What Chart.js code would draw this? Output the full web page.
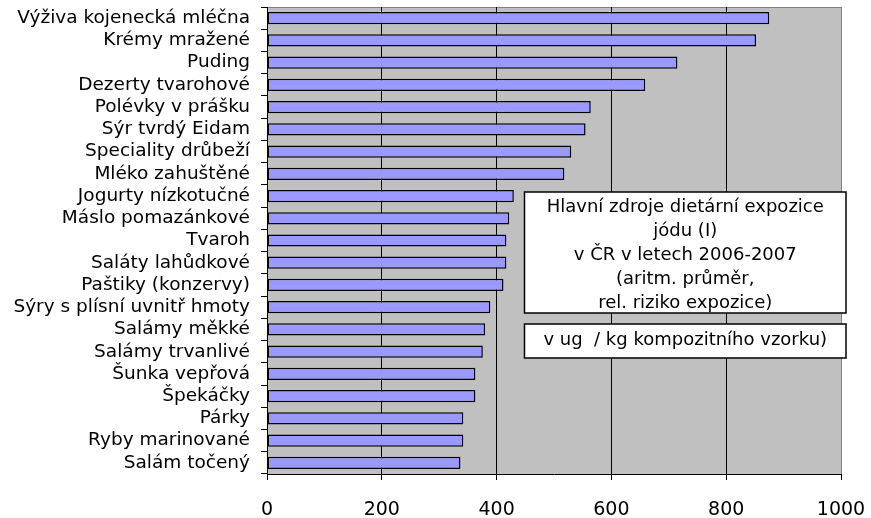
<!DOCTYPE html>
<html>
<head>
<meta charset="utf-8">
<script src="https://cdn.jsdelivr.net/npm/chart.js@4/dist/chart.umd.min.js"></script>
<style>
  html, body { margin: 0; padding: 0; background: #ffffff; }
  #wrap { width: 871px; height: 518px; }
</style>
</head>
<body>
<div id="wrap"><canvas id="c" width="871" height="518"></canvas></div>
<script>
// Food categories (top to bottom) and iodine content, µg / kg of composite sample
const categories = [
  'Výživa kojenecká mléčna',
  'Krémy mražené',
  'Puding',
  'Dezerty tvarohové',
  'Polévky v prášku',
  'Sýr tvrdý Eidam',
  'Speciality drůbeží',
  'Mléko zahuštěné',
  'Jogurty nízkotučné',
  'Máslo pomazánkové',
  'Tvaroh',
  'Saláty lahůdkové',
  'Paštiky (konzervy)',
  'Sýry s plísní uvnitř hmoty',
  'Salámy měkké',
  'Salámy trvanlivé',
  'Šunka vepřová',
  'Špekáčky',
  'Párky',
  'Ryby marinované',
  'Salám točený'
];
const iodineValues = [
  875, 852, 715, 659, 564, 555, 530, 518, 430, 422, 417,
  417, 412, 389, 380, 376, 363, 363, 342, 342, 337
];
const xTickValues = [0, 200, 400, 600, 800, 1000];

const titleLines = [
  'Hlavní zdroje dietární expozice',
  'jódu (I)',
  'v ČR v letech 2006-2007',
  '(aritm. průměr,',
  'rel. riziko expozice)'
];
const unitLine = 'v ug  / kg kompozitního vzorku)';

const FONT = 'DejaVu Sans';

// Grey plot background with a thin grey frame on top and right
const plotBackground = {
  id: 'plotBackground',
  beforeDraw(chart) {
    const { ctx, chartArea: a } = chart;
    ctx.save();
    ctx.fillStyle = '#C0C0C0';
    ctx.fillRect(a.left, a.top, a.right - a.left, a.bottom - a.top);
    ctx.strokeStyle = '#808080';
    ctx.lineWidth = 1;
    ctx.beginPath();
    ctx.moveTo(a.left, a.top + 0.5);
    ctx.lineTo(a.right + 0.5, a.top + 0.5);
    ctx.lineTo(a.right + 0.5, a.bottom);
    ctx.stroke();
    ctx.restore();
  }
};

// White note boxes with centred text
function drawBox(ctx, x, y, w, h, lines, baselines) {
  ctx.fillStyle = '#ffffff';
  ctx.fillRect(x, y, w, h);
  ctx.strokeStyle = '#000000';
  ctx.lineWidth = 1.5;
  ctx.strokeRect(x, y, w, h);
  ctx.fillStyle = '#000000';
  ctx.font = '18px "' + FONT + '"';
  ctx.textAlign = 'center';
  ctx.textBaseline = 'alphabetic';
  lines.forEach((t, i) => ctx.fillText(t, x + w / 2, baselines[i]));
}

const noteBoxes = {
  id: 'noteBoxes',
  afterDraw(chart) {
    const { ctx, chartArea: a } = chart;
    const left = a.left + 257.5;
    const right = a.right + 5;
    ctx.save();
    drawBox(ctx, left, 192, right - left, 121, titleLines, [212, 236, 260, 284, 308]);
    drawBox(ctx, left, 324, right - left, 34, [unitLine], [345]);
    ctx.restore();
  }
};

new Chart(document.getElementById('c'), {
  type: 'bar',
  data: {
    labels: categories,
    datasets: [{
      data: iodineValues,
      backgroundColor: '#9999FF',
      borderColor: '#000000',
      borderWidth: 1.5,
      borderSkipped: false,
      barPercentage: 0.55,
      categoryPercentage: 1
    }]
  },
  options: {
    indexAxis: 'y',
    responsive: false,
    animation: false,
    events: [],
    layout: { padding: { top: 7, right: 30, left: 0, bottom: 0 } },
    plugins: {
      legend: { display: false },
      tooltip: { enabled: false }
    },
    scales: {
      x: {
        min: 0,
        max: 1000,
        afterBuildTicks(scale) {
          scale.ticks = xTickValues.map(v => ({ value: v }));
        },
        afterFit(scale) {
          scale.height = 44;
          scale.paddingLeft = 0;
          scale.paddingRight = 0;
        },
        grid: {
          color: c => (c.tick && c.tick.value === 1000) ? '#808080' : '#000000',
          lineWidth: 1,
          tickLength: 6,
          tickColor: '#000000',
          drawOnChartArea: true
        },
        border: { display: true, color: '#000000', width: 1 },
        ticks: {
          color: '#000000',
          font: { family: FONT, size: 19 },
          padding: 19,
          maxRotation: 0,
          callback: v => String(v)
        }
      },
      y: {
        afterFit(scale) {
          scale.width = 267;
          scale.paddingTop = 0;
          scale.paddingBottom = 0;
        },
        grid: {
          offset: true,
          drawOnChartArea: false,
          tickLength: 6,
          color: '#000000',
          tickColor: '#000000'
        },
        border: { display: true, color: '#000000', width: 1 },
        ticks: {
          color: '#000000',
          font: { family: FONT, size: 18.5 },
          padding: 11,
          autoSkip: false
        }
      }
    }
  },
  plugins: [plotBackground, noteBoxes]
});
</script>
</body>
</html>
